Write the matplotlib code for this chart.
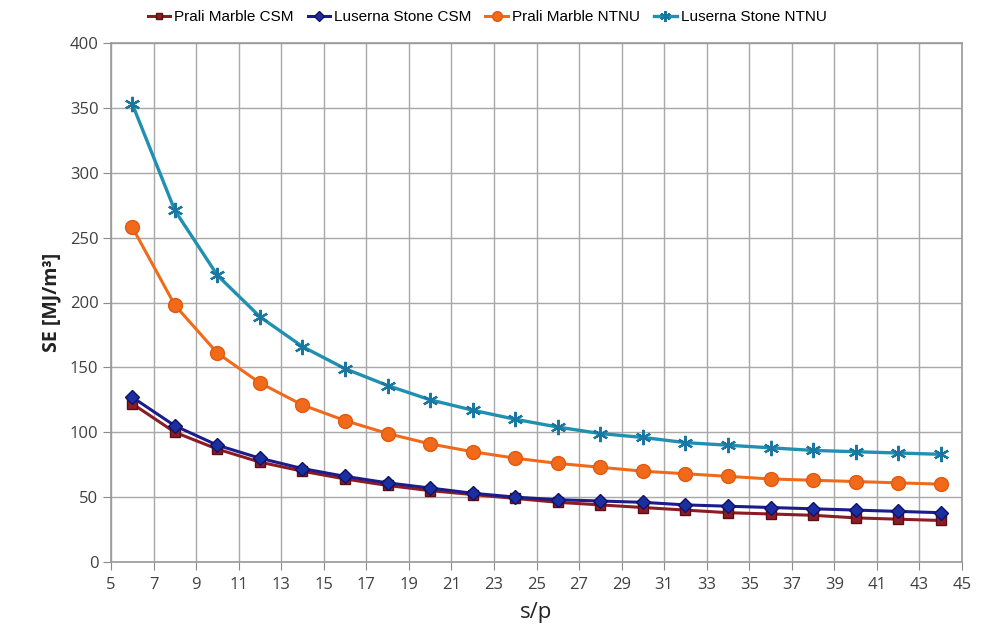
import matplotlib
matplotlib.use("Agg")
import matplotlib.pyplot as plt

s_p = [6, 8, 10, 12, 14, 16, 18, 20, 22, 24, 26, 28, 30, 32, 34, 36, 38, 40, 42, 44]

prali_csm = [122, 100, 87, 77, 70, 64, 59, 55, 52, 49, 46, 44, 42, 40, 38, 37, 36, 34, 33, 32]
luserna_csm = [127, 105, 90, 80, 72, 66, 61, 57, 53, 50, 48, 47, 46, 44, 43, 42, 41, 40, 39, 38]
prali_ntnu = [258, 198, 161, 138, 121, 109, 99, 91, 85, 80, 76, 73, 70, 68, 66, 64, 63, 62, 61, 60]
luserna_ntnu = [353, 271, 221, 189, 166, 149, 136, 125, 117, 110, 104, 99, 96, 92, 90, 88, 86, 85, 84, 83]

series_names = ["Prali Marble CSM", "Luserna Stone CSM", "Prali Marble NTNU", "Luserna Stone NTNU"]
x_ticks = list(range(5, 46, 2))
y_ticks = list(range(0, 401, 50))

tick_font = ["Open Sans", "DejaVu Sans"]
legend_font = ["Liberation Sans", "DejaVu Sans"]

fig = plt.figure(figsize=(10.05, 6.35), dpi=100)
ax = fig.add_axes([111 / 1005, 1 - 562 / 635, (962 - 111) / 1005, (562 - 43) / 635])

ax.plot(s_p, prali_csm, color="#8c1c24", lw=2.2, marker="s", ms=6.5,
        mfc="#8c1c24", mec="#5a0f14", label=series_names[0], zorder=3)
ax.plot(s_p, luserna_csm, color="#1c1c8c", lw=2.2, marker="D", ms=7,
        mfc="#1a2fa0", mec="#10106a", label=series_names[1], zorder=4)
ax.plot(s_p, prali_ntnu, color="#f06a1a", lw=2.2, marker="o", ms=10,
        mfc="#f06a1a", mec="#e05a10", label=series_names[2], zorder=3)
ax.plot(s_p, luserna_ntnu, color="#2090b0", lw=2.4, marker=(6, 2, 0), ms=11,
        mew=1.6, mec="#1a78a0", label=series_names[3], zorder=3)

ax.set_xlim(5, 45)
ax.set_ylim(0, 400)
ax.set_xticks(x_ticks)
ax.set_yticks(y_ticks)
ax.grid(True, color="#a8a8a8", lw=1.0, zorder=0)
ax.set_axisbelow(True)
for sp in ax.spines.values():
    sp.set_color("#9a9a9a")
    sp.set_linewidth(1.2)
ax.tick_params(axis="both", direction="out", length=6, color="#8a8a8a",
               labelsize=12, labelcolor="#404040")
ax.tick_params(axis="x", pad=5)
ax.tick_params(axis="y", pad=3)
for lab in ax.get_xticklabels() + ax.get_yticklabels():
    lab.set_family(tick_font)

ax.set_ylabel("SE [MJ/m³]", fontsize=14, fontweight="bold", family=tick_font,
              color="#222222", labelpad=6)
ax.set_xlabel("s/p", fontsize=16, family=tick_font, color="#222222", labelpad=6)

leg = fig.legend(loc="center", bbox_to_anchor=(487 / 1005, 1 - 17 / 635), ncol=4,
                 frameon=False, prop={"family": legend_font, "size": 11},
                 handlelength=1.5, handletextpad=0.25, columnspacing=0.9,
                 markerscale=0.7)

fig.savefig("out.png", dpi=100, facecolor="white")
